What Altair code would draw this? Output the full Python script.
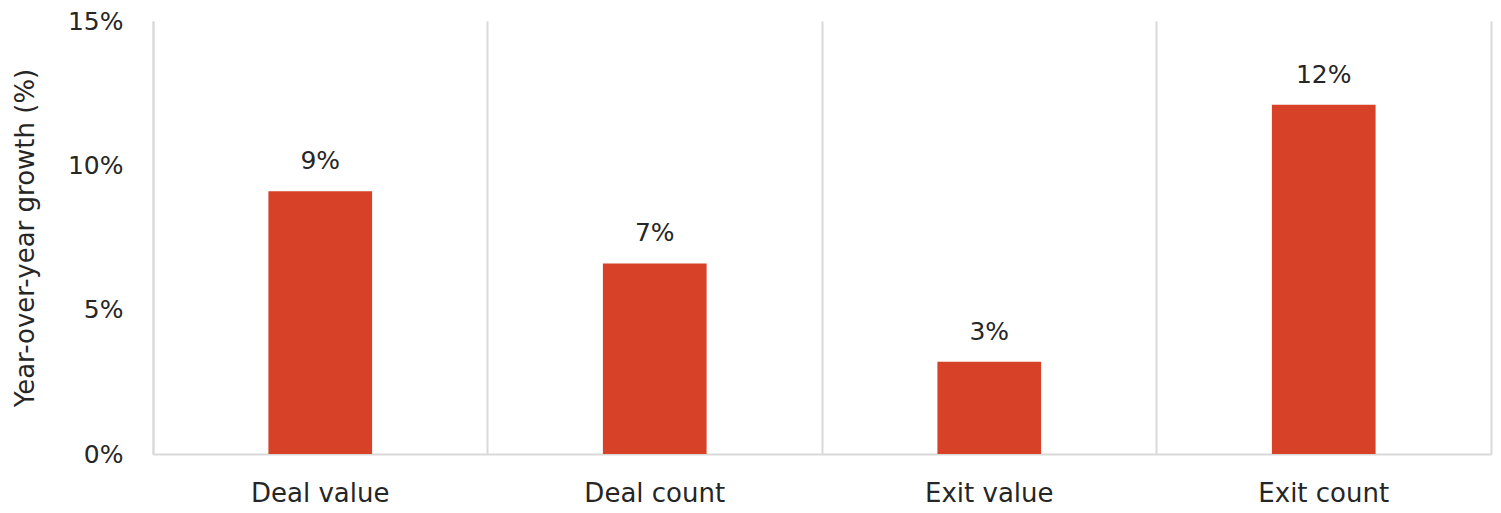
import altair as alt
import pandas as pd

categories = ["Deal value", "Deal count", "Exit value", "Exit count"]
values = [9.1, 6.6, 3.2, 12.1]
labels = ["9%", "7%", "3%", "12%"]

df = pd.DataFrame({"category": categories, "value": values, "label": labels})

FONT = "DejaVu Sans"
GRID = "#d9d9d9"
TXT = "#262626"

x_enc = alt.X(
    "category:N",
    sort=categories,
    scale=alt.Scale(paddingInner=0, paddingOuter=0),
    axis=alt.Axis(
        title=None, labelAngle=0, labelFontSize=26, labelFont=FONT, labelColor=TXT,
        labelPadding=26, ticks=False, domain=True, domainColor=GRID, domainWidth=2,
        grid=True, gridColor=GRID, gridWidth=2, bandPosition=0,
    ),
)
y_scale = alt.Scale(domain=[0, 15])

bars = alt.Chart(df).mark_bar(color="#D64127", width=alt.RelativeBandSize(0.31)).encode(
    x=x_enc,
    y=alt.Y(
        "value:Q", scale=y_scale,
        axis=alt.Axis(
            title="Year-over-year growth (%)", titleFont=FONT, titleFontSize=26,
            titleFontWeight="normal", titleColor=TXT, titlePadding=29,
            values=[0, 5, 10, 15], labelExpr="datum.value + '%'",
            labelFont=FONT, labelFontSize=25, labelColor=TXT, labelPadding=30,
            ticks=False, grid=False, domain=True, domainColor=GRID, domainWidth=2,
        ),
    ),
)

text = alt.Chart(df).mark_text(
    dy=-30, fontSize=25, font=FONT, color=TXT
).encode(
    x=alt.X("category:N", sort=categories),
    y=alt.Y("value:Q", scale=y_scale, axis=None),
    text="label:N",
)

right = alt.Chart(df).mark_bar(opacity=0).encode(
    x=alt.X("category:N", sort=categories),
    y=alt.Y(
        "value:Q", scale=y_scale,
        axis=alt.Axis(
            orient="right", title=None, labels=False, ticks=False, grid=False,
            domain=True, domainColor=GRID, domainWidth=2,
        ),
    ),
)

chart = (
    alt.layer(bars, text, right)
    .resolve_axis(y="independent")
    .properties(
        width=1338, height=433,
        autosize=alt.AutoSizeParams(type="none"),
        padding={"left": 145, "top": 13, "right": 2, "bottom": 56},
    )
    .configure_view(stroke=None)
)

chart.save("out.html", embed_options={"renderer": "svg", "actions": False})
